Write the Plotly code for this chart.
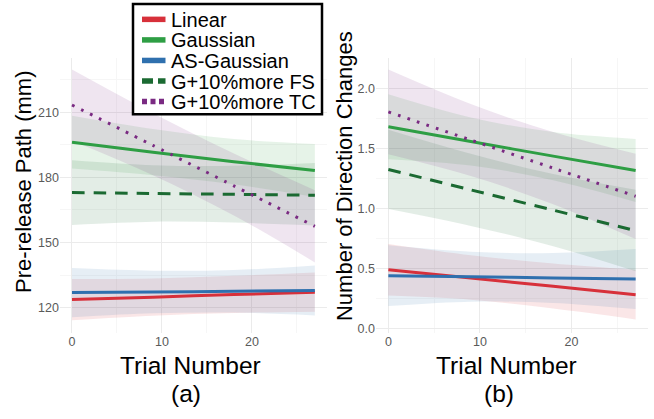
import plotly.graph_objects as go

# ---------------- data ----------------
series_names = ["Linear", "Gaussian", "AS-Gaussian", "G+10%more FS", "G+10%more TC"]
series_colors = ["#d7303a", "#2e9e44", "#2f70ae", "#1b6a32", "#7a2a82"]
series_dash = ["solid", "solid", "solid", "12.5px,9px", "2.7px,7.3px"]
legend_dash = ["solid", "solid", "solid", "11px,5px", "5px,3.5px"]

trial_x = [0, 9, 18, 27]

# panel (a): Pre-release Path (mm)
path_mean = {
    "Linear":       [123.8, 124.9, 126.1, 127.2],
    "Gaussian":     [196.2, 191.6, 187.2, 183.2],
    "AS-Gaussian":  [127.0, 127.3, 127.6, 128.0],
    "G+10%more FS": [173.0, 172.6, 172.2, 171.8],
    "G+10%more TC": [213.3, 194.7, 176.1, 157.5],
}
path_hi = {
    "Linear":       [133.3, 133.5, 134.7, 136.2],
    "Gaussian":     [208.3, 202.2, 197.6, 195.4],
    "AS-Gaussian":  [138.3, 137.1, 137.4, 139.5],
    "G+10%more FS": [187.9, 185.6, 185.3, 186.6],
    "G+10%more TC": [229.6, 209.5, 191.0, 174.1],
}
path_lo = {
    "Linear":       [114.3, 116.4, 117.6, 118.2],
    "Gaussian":     [184.1, 181.0, 176.8, 171.0],
    "AS-Gaussian":  [115.7, 117.5, 117.8, 116.5],
    "G+10%more FS": [158.1, 159.6, 159.2, 157.9],
    "G+10%more TC": [197.0, 181.0, 162.5, 140.9],
}

# panel (b): Number of Direction Changes
dir_mean = {
    "Linear":       [0.490, 0.421, 0.352, 0.283],
    "Gaussian":     [1.680, 1.557, 1.436, 1.317],
    "AS-Gaussian":  [0.441, 0.432, 0.422, 0.413],
    "G+10%more FS": [1.325, 1.155, 0.986, 0.816],
    "G+10%more TC": [1.804, 1.570, 1.336, 1.102],
}
dir_hi = {
    "Linear":       [0.705, 0.611, 0.542, 0.490],
    "Gaussian":     [1.950, 1.757, 1.636, 1.579],
    "AS-Gaussian":  [0.694, 0.640, 0.630, 0.663],
    "G+10%more FS": [1.655, 1.455, 1.286, 1.155],
    "G+10%more TC": [2.157, 1.870, 1.636, 1.455],
}
dir_lo = {
    "Linear":       [0.275, 0.241, 0.167, 0.077],
    "Gaussian":     [1.410, 1.357, 1.236, 1.055],
    "AS-Gaussian":  [0.188, 0.224, 0.214, 0.163],
    "G+10%more FS": [0.995, 0.855, 0.686, 0.477],
    "G+10%more TC": [1.451, 1.270, 1.036, 0.745],
}

x_ticks = [0, 10, 20]
x_minor = [5, 15, 25]
path_ticks = [120, 150, 180, 210]
path_minor = [135, 165, 195, 225]
dir_ticks = [0.0, 0.5, 1.0, 1.5, 2.0]
dir_tick_text = ["0.0", "0.5", "1.0", "1.5", "2.0"]
dir_minor = [0.25, 0.75, 1.25, 1.75]

FONT = "Liberation Sans, Arial, sans-serif"
W, H = 654, 419


def rgba(hex_color, a):
    h = hex_color.lstrip("#")
    r, g, b = int(h[0:2], 16), int(h[2:4], 16), int(h[4:6], 16)
    return f"rgba({r},{g},{b},{a})"


fig = go.Figure()

for xa, ya, mean, hi, lo in [("x", "y", path_mean, path_hi, path_lo),
                             ("x2", "y2", dir_mean, dir_hi, dir_lo)]:
    # ribbons
    for name, col in zip(series_names, series_colors):
        fig.add_trace(go.Scatter(x=trial_x, y=lo[name], xaxis=xa, yaxis=ya,
                                 mode="lines", line=dict(width=0, shape="spline", smoothing=1),
                                 showlegend=False, hoverinfo="skip"))
        fig.add_trace(go.Scatter(x=trial_x, y=hi[name], xaxis=xa, yaxis=ya,
                                 mode="lines", line=dict(width=0, shape="spline", smoothing=1),
                                 fill="tonexty", fillcolor=rgba(col, 0.12),
                                 showlegend=False, hoverinfo="skip"))
    # lines
    for name, col, dash in zip(series_names, series_colors, series_dash):
        fig.add_trace(go.Scatter(x=trial_x, y=mean[name], xaxis=xa, yaxis=ya,
                                 mode="lines", name=name,
                                 line=dict(color=col, width=3, dash=dash, shape="spline", smoothing=0.6),
                                 showlegend=False))

grid_major = "#ebebeb"
grid_minor = "#f6f6f6"
tickfont = dict(family=FONT, size=12.5, color="#5a5a5a")

xcommon = dict(range=[-1.35, 28.35], tickvals=x_ticks, showline=False, zeroline=False,
               ticks="", gridcolor=grid_major, gridwidth=1, tickfont=tickfont,
               minor=dict(tickvals=x_minor, showgrid=True, gridcolor=grid_minor, gridwidth=1))
ydom = [1 - 335 / H, 1 - 58 / H]

fig.update_layout(
    width=W, height=H,
    margin=dict(l=0, r=0, t=0, b=0),
    paper_bgcolor="white", plot_bgcolor="white",
    showlegend=False,
    xaxis=dict(domain=[59.85 / W, 327 / W], anchor="y", **xcommon),
    xaxis2=dict(domain=[376 / W, 648 / W], anchor="y2", **xcommon),
    yaxis=dict(domain=ydom, anchor="x", range=[108.6, 235.1], tickvals=path_ticks,
               showline=False, zeroline=False, ticks="", gridcolor=grid_major, tickfont=tickfont,
               minor=dict(tickvals=path_minor, showgrid=True, gridcolor=grid_minor)),
    yaxis2=dict(domain=ydom, anchor="x2", range=[-0.033, 2.256], tickvals=dir_ticks,
                ticktext=dir_tick_text,
                showline=False, zeroline=False, ticks="", gridcolor=grid_major, tickfont=tickfont,
                minor=dict(tickvals=dir_minor, showgrid=True, gridcolor=grid_minor)),
)

ann = []
title_font = dict(family=FONT, size=24.5, color="black")
ytitle_font = dict(family=FONT, size=22, color="black")
for txt, xc, yc in [("Trial Number", 190, 368), ("(a)", 186, 396),
                    ("Trial Number", 506.7, 368), ("(b)", 499, 396)]:
    ann.append(dict(text=txt, x=xc / W, y=1 - yc / H, xref="paper", yref="paper",
                    xanchor="center", yanchor="middle", showarrow=False, font=title_font))
for txt, xc, yc in [("Pre-release Path (mm)", 24, 183.3), ("Number of Direction Changes", 344, 177.3)]:
    ann.append(dict(text=txt, x=xc / W, y=1 - yc / H, xref="paper", yref="paper",
                    xanchor="center", yanchor="middle", showarrow=False, textangle=-90,
                    font=ytitle_font))

# manual legend box (drawn from the series lists)
shapes = [dict(type="rect", xref="paper", yref="paper", x0=133 / W, x1=322 / W,
               y0=1 - 115 / H, y1=1 - 4 / H, fillcolor="white",
               line=dict(color="black", width=2.5), layer="above")]
row0, step = 19.5, 20.7
for i, (name, col, dash) in enumerate(zip(series_names, series_colors, legend_dash)):
    yc = row0 + i * step
    shapes.append(dict(type="line", xref="paper", yref="paper", x0=142 / W, x1=165.5 / W,
                       y0=1 - yc / H, y1=1 - yc / H, line=dict(color=col, width=5.5, dash=dash),
                       layer="above"))
    ann.append(dict(text=name, x=169 / W, y=1 - (yc + 0.5) / H, xref="paper", yref="paper",
                    xanchor="left", yanchor="middle", showarrow=False,
                    font=dict(family=FONT, size=20, color="black")))

fig.update_layout(annotations=ann, shapes=shapes)
fig.write_html("out.html")
